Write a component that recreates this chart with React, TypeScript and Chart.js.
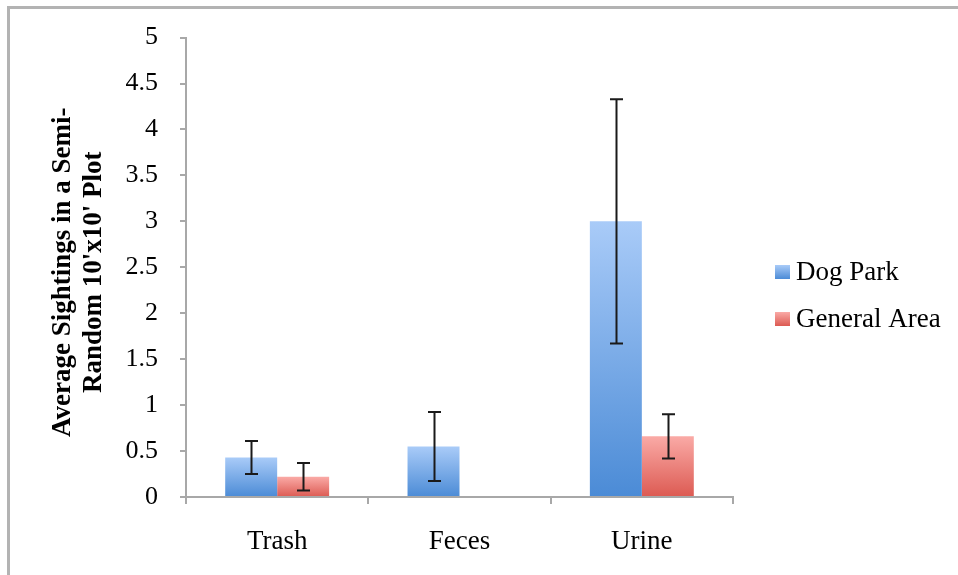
import React, { useEffect, useRef } from "react";
import { Chart, registerables } from "chart.js";

Chart.register(...registerables);

const categories = ["Trash", "Feces", "Urine"];
const seriesNames = ["Dog Park", "General Area"];
const dogPark = [0.43, 0.55, 3.0];
const dogParkErr = [0.18, 0.375, 1.33];
const generalArea = [0.22, 0, 0.66];
const generalAreaErr = [0.15, 0, 0.24];
const yTitleLines = ["Average Sightings in a Semi-", "Random 10'x10' Plot"];
const yTickLabels = ["0", "0.5", "1", "1.5", "2", "2.5", "3", "3.5", "4", "4.5", "5"];
const yMin = 0;
const yMax = 5;
const yStep = 0.5;

const BLUE_TOP = "#a9cbf8";
const BLUE_BOTTOM = "#4b8bd6";
const RED_TOP = "#faaaa6";
const RED_BOTTOM = "#dc5a52";
const FONT = "'Liberation Serif', 'Times New Roman', serif";
const AXIS = "#a8a8a8";

function barGradient(top: string, bottom: string) {
  return (ctx: any) => {
    const chart = ctx.chart;
    const y = chart.scales && chart.scales.y;
    if (!y || ctx.type !== "data") return bottom;
    const v = ctx.raw as number;
    const yTop = y.getPixelForValue(v);
    const yBase = y.getPixelForValue(0);
    if (!isFinite(yTop) || !isFinite(yBase) || Math.abs(yTop - yBase) < 1) return bottom;
    const g = chart.ctx.createLinearGradient(0, yTop, 0, yBase);
    g.addColorStop(0, top);
    g.addColorStop(1, bottom);
    return g;
  };
}

const framePlugin = {
  id: "frame",
  beforeDraw(chart: any) {
    const ctx = chart.ctx;
    ctx.save();
    ctx.fillStyle = "#ffffff";
    ctx.fillRect(0, 0, chart.width, chart.height);
    ctx.fillStyle = "#b3b3b3";
    ctx.fillRect(7, 6, chart.width - 7, 3);
    ctx.fillRect(7, 6, 3, chart.height - 6);
    ctx.restore();
  },
};

const errorBarPlugin = {
  id: "errorBars",
  afterDatasetsDraw(chart: any) {
    const ctx = chart.ctx;
    const y = chart.scales.y;
    const errs = [dogParkErr, generalAreaErr];
    chart.data.datasets.forEach((ds: any, di: number) => {
      const meta = chart.getDatasetMeta(di);
      meta.data.forEach((bar: any, i: number) => {
        const e = errs[di][i];
        const v = ds.data[i] as number;
        if (!e) return;
        const x = Math.round(bar.x) + 0.5;
        const yHi = y.getPixelForValue(v + e);
        const yLo = y.getPixelForValue(v - e);
        ctx.save();
        ctx.strokeStyle = "#1a1a1a";
        ctx.lineWidth = 2;
        ctx.beginPath();
        ctx.moveTo(x, yHi);
        ctx.lineTo(x, yLo);
        ctx.moveTo(x - 6.5, yHi);
        ctx.lineTo(x + 6.5, yHi);
        ctx.moveTo(x - 6.5, yLo);
        ctx.lineTo(x + 6.5, yLo);
        ctx.stroke();
        ctx.restore();
      });
    });
  },
};

const titlePlugin = {
  id: "yTitle",
  afterDraw(chart: any) {
    const ctx = chart.ctx;
    const area = chart.chartArea;
    const cy = (area.top + area.bottom) / 2 + 5;
    ctx.save();
    ctx.fillStyle = "#000000";
    ctx.font = "bold 27px " + FONT;
    ctx.textAlign = "center";
    ctx.textBaseline = "alphabetic";
    const baselines = [70, 101];
    yTitleLines.forEach((line, i) => {
      ctx.save();
      ctx.translate(baselines[i], cy);
      ctx.rotate(-Math.PI / 2);
      ctx.fillText(line, 0, 0);
      ctx.restore();
    });
    ctx.restore();
  },
};

const legendPlugin = {
  id: "customLegend",
  afterDraw(chart: any) {
    const ctx = chart.ctx;
    const colors = [
      [BLUE_TOP, BLUE_BOTTOM],
      [RED_TOP, RED_BOTTOM],
    ];
    const x0 = 775;
    const ys = [272, 319];
    ctx.save();
    seriesNames.forEach((name, i) => {
      const yc = ys[i];
      const g = ctx.createLinearGradient(0, yc - 7, 0, yc + 7);
      g.addColorStop(0, colors[i][0]);
      g.addColorStop(1, colors[i][1]);
      ctx.fillStyle = g;
      ctx.fillRect(x0, yc - 7, 15, 14);
      ctx.fillStyle = "#000000";
      ctx.font = "27px " + FONT;
      ctx.textAlign = "left";
      ctx.textBaseline = "middle";
      ctx.fillText(name, x0 + 21, yc + 1);
    });
    ctx.restore();
  },
};

export default function App() {
  const ref = useRef<HTMLCanvasElement | null>(null);

  useEffect(() => {
    document.body.style.margin = "0";
    const canvas = ref.current;
    if (!canvas) return;
    const chart = new Chart(canvas, {
      type: "bar",
      data: {
        labels: categories,
        datasets: [
          {
            label: seriesNames[0],
            data: dogPark,
            backgroundColor: barGradient(BLUE_TOP, BLUE_BOTTOM),
            borderWidth: 0,
            categoryPercentage: 0.57,
            barPercentage: 1,
          },
          {
            label: seriesNames[1],
            data: generalArea,
            backgroundColor: barGradient(RED_TOP, RED_BOTTOM),
            borderWidth: 0,
            categoryPercentage: 0.57,
            barPercentage: 1,
          },
        ],
      },
      options: {
        responsive: false,
        animation: false,
        devicePixelRatio: 1,
        layout: { padding: { left: 0, right: 225, top: 36, bottom: 0 } },
        plugins: {
          legend: { display: false },
          title: { display: false },
          tooltip: { enabled: false },
        },
        scales: {
          x: {
            grid: {
              display: true,
              drawOnChartArea: false,
              drawTicks: true,
              tickLength: 7,
              color: AXIS,
              lineWidth: 2,
              offset: true,
            },
            border: { display: true, color: AXIS, width: 2 },
            ticks: {
              color: "#000000",
              font: { family: FONT, size: 27 },
              padding: 22,
            },
            afterFit: (scale: any) => {
              scale.height = 78;
            },
          },
          y: {
            min: yMin,
            max: yMax,
            grid: {
              display: true,
              drawOnChartArea: false,
              drawTicks: true,
              tickLength: 6,
              color: AXIS,
              lineWidth: 2,
            },
            border: { display: true, color: AXIS, width: 2 },
            ticks: {
              stepSize: yStep,
              color: "#000000",
              font: { family: FONT, size: 26 },
              padding: 22,
              callback: (_v: any, i: number) => yTickLabels[i],
            },
            afterFit: (scale: any) => {
              scale.width = 186;
            },
          },
        },
      },
      plugins: [framePlugin, errorBarPlugin, titlePlugin, legendPlugin],
    });
    return () => chart.destroy();
  }, []);

  return (
    <div style={{ width: 958, height: 575 }}>
      <canvas ref={ref} width={958} height={575} style={{ display: "block" }} />
    </div>
  );
}
